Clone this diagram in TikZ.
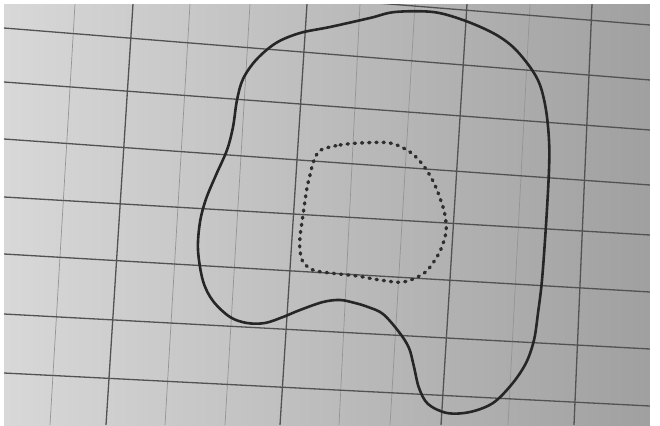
\documentclass[tikz,border=0pt]{standalone}
\definecolor{paperL}{HTML}{D8D8D8}
\definecolor{paperM}{HTML}{B6B6B6}
\definecolor{paperR}{HTML}{A0A0A0}
\begin{document}
\begin{tikzpicture}[x=1pt,y=-1pt,
  majorline/.style={draw=black!68,line width=1.3pt},
  minorline/.style={draw=black!42,line width=0.7pt},
  outercurve/.style={draw=black!85,line width=2.6pt,line join=round},
  innercurve/.style={draw=black!82,line width=3.4pt,line cap=round,dash pattern=on 1.2pt off 6pt}]
\useasboundingbox (0,0) rectangle (660,425);
\fill[white] (0,0) rectangle (660,425);
% photographed paper
\shade[left color=paperL,middle color=paperM,right color=paperR] (4,4) rectangle (650,425);
% faint vertical lines
\foreach \a/\b in {75/50,190/165,250/225,360/339,415/390,530/508}
  \draw[minorline] (\a,4) -- (\b,425);
% marked vertical lines
\foreach \a/\b in {133/106,307/280,467/441,592/574}
  \draw[majorline] (\a,4) -- (\b,425);
% horizontal lines
\foreach \a/\b in {-27/25,28/80,82/130,139/185,197/235,254/292,314/349,373/406}
  \draw[majorline] (4,\a) -- (650,\b);
\fill[white] (0,0) rectangle (660,4);
\fill[white] (650,0) rectangle (660,425);
% outer closed curve
\draw[outercurve] plot[smooth cycle,tension=0.55] coordinates {
 (433,12) (463,20) (493,33) (513,47) (530,67) (540,85) (546,110) (549,140)
 (549,170) (546,225) (542,280) (538,313) (534,340) (526,363) (512,384)
 (493,403) (470,412) (447,413) (428,404) (419,388) (414,367) (409,348)
 (399,332) (383,314) (368,307) (355,303) (340,300) (323,302) (300,310)
 (283,317) (265,323) (247,323) (230,317) (213,301) (203,281) (198,250)
 (200,222) (206,199) (216,175) (227,150) (233,127) (237,100) (243,79)
 (256,60) (276,43) (300,33) (330,27) (370,18) (395,12)};
% inner dotted curve
\draw[innercurve] plot[smooth cycle,tension=0.55] coordinates {
 (323,149) (340,145) (360,143) (390,143) (410,152) (423,165) (433,181)
 (440,198) (445,215) (446,232) (441,249) (433,263) (423,274) (403,282)
 (380,280) (357,276) (330,273) (313,270) (303,262) (300,250) (300,237)
 (302,222) (304,208) (307,188) (310,175) (313,163) (317,154)};
\end{tikzpicture}
\end{document}
